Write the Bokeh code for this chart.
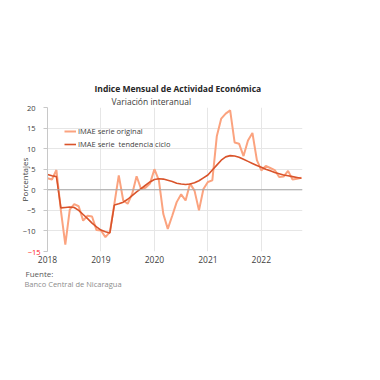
from bokeh.plotting import figure
from bokeh.models import Legend, LegendItem, Span, FixedTicker, Range1d, Title, LinearAxis
from bokeh.embed import file_html
from bokeh.resources import INLINE

# Monthly data Jan 2018 .. Oct 2022
years = [2018, 2019, 2020, 2021, 2022]
original = [
    2.8, 2.5, 4.8, -5.0, -13.3, -4.8, -3.5, -4.0, -7.5, -6.3, -6.5, -9.8,   # 2018
    -9.9, -11.5, -10.3, -3.5, 3.5, -2.6, -3.4, -1.0, 3.3, 0.2, 0.5, 1.5,  # 2019
    5.0, 2.3, -5.9, -9.5, -6.3, -3.0, -1.1, -2.6, 1.5, -0.2, -5.0, 0.2,  # 2020
    1.9, 2.3, 13.0, 17.3, 18.5, 19.3, 11.5, 11.2, 8.2, 12.0, 13.8, 7.2,  # 2021
    4.7, 5.8, 5.3, 4.8, 3.1, 3.2, 4.6, 2.5, 2.7, 2.9,                    # 2022
]
trend = [
    3.7, 3.4, 3.2, -4.4, -4.3, -4.2, -4.3, -5.0, -6.0, -7.0, -8.1, -9.0,
    -9.8, -10.2, -10.5, -3.7, -3.4, -3.0, -2.3, -1.4, -0.5, 0.3, 1.1, 1.9,
    2.5, 2.7, 2.6, 2.3, 2.0, 1.6, 1.4, 1.3, 1.4, 1.7, 2.2, 2.9,
    3.6, 4.8, 6.0, 7.2, 8.0, 8.3, 8.2, 7.9, 7.4, 6.9, 6.4, 5.9,
    5.5, 5.0, 4.6, 4.2, 3.9, 3.6, 3.4, 3.2, 3.0, 2.8,
]
y_ticks = [-15, -10, -5, 0, 5, 10, 15, 20]
legend_labels = ["IMAE serie original", "IMAE serie  tendencia ciclo"]
title_text = "Indice Mensual de  Actividad Económica"
subtitle_text = "Variación interanual"
source_head = "Fuente:"
source_text = "Banco Central de Nicaragua"

x = [2018 + i / 12 for i in range(len(original))]

FONT = "Open Sans"
W, H = 362, 310
p = figure(width=W, height=H, output_backend="svg", toolbar_location=None,
           x_range=Range1d(2018, 2022.77), y_range=Range1d(-15, 20),
           min_border_left=47, min_border_right=60, min_border_top=107,
           min_border_bottom=59, y_axis_location=None)
p.outline_line_color = None
p.background_fill_color = "white"
p.border_fill_color = "white"

r1 = p.line(x, original, line_color="#FBA37F", line_width=2)
r2 = p.line(x, trend, line_color="#D9532A", line_width=1.6)

p.add_layout(Span(location=0, dimension="width", line_color="#A6A6A6", line_width=1))

p.xaxis.ticker = FixedTicker(ticks=years)
p.xgrid.ticker = FixedTicker(ticks=years)
p.xgrid.grid_line_color = "#E6E6E6"
p.ygrid.ticker = FixedTicker(ticks=y_ticks)
p.ygrid.grid_line_color = "#E6E6E6"

p.xaxis.axis_line_color = None
p.xaxis.major_tick_line_color = None
p.xaxis.minor_tick_line_color = None
p.xaxis.major_label_text_font = FONT
p.xaxis.major_label_text_font_size = "8.5px"
p.xaxis.major_label_text_color = "#404040"
p.xaxis.major_label_standoff = -2

# inner axis: line, ticks, and the red lowest label
inner = LinearAxis(ticker=FixedTicker(ticks=y_ticks),
                   major_label_overrides={t: " " for t in y_ticks if t != -15},
                   axis_line_color="#C8C8C8", major_tick_line_color="#C8C8C8",
                   major_tick_in=0, major_tick_out=4, minor_tick_line_color=None,
                   major_label_text_font=FONT, major_label_text_font_size="7.5px",
                   major_label_text_color="#FF2020", major_label_standoff=3)
# outer axis: the other labels and the axis title, pulled over the inner one
outer = LinearAxis(ticker=FixedTicker(ticks=y_ticks),
                   major_label_overrides={-15: " "},
                   axis_line_color=None, major_tick_line_color=None,
                   major_tick_in=0, major_tick_out=0, minor_tick_line_color=None,
                   major_label_text_font=FONT, major_label_text_font_size="7.5px",
                   major_label_text_color="#404040", major_label_standoff=-11,
                   axis_label="Porcentajes", axis_label_text_font=FONT,
                   axis_label_text_font_size="8px", axis_label_text_font_style="normal",
                   axis_label_text_color="#404040", axis_label_standoff=-10)
p.add_layout(inner, "left")
p.add_layout(outer, "left")

legend = Legend(items=[LegendItem(label=legend_labels[0], renderers=[r1]),
                       LegendItem(label=legend_labels[1], renderers=[r2])],
                location=(17, 102), border_line_color=None,
                background_fill_alpha=0, label_text_font=FONT,
                label_text_font_size="7.5px", label_text_color="#404040",
                glyph_width=12, glyph_height=10, label_height=10,
                spacing=3, padding=0, margin=0, label_standoff=2)
p.add_layout(legend)

p.add_layout(Title(text=subtitle_text, align="left", offset=64, text_font=FONT,
                   text_font_size="8.5px", text_font_style="normal",
                   text_color="#404040", standoff=2), "above")
p.add_layout(Title(text=title_text, align="left", offset=47, text_font=FONT,
                   text_font_size="8.5px", text_font_style="bold",
                   text_color="#262626", standoff=-3), "above")
p.add_layout(Title(text=source_head, align="left", offset=-22, text_font=FONT,
                   text_font_size="8px", text_font_style="normal",
                   text_color="#595959", standoff=0), "below")
p.add_layout(Title(text=source_text, align="left", offset=-23, text_font=FONT,
                   text_font_size="7.5px", text_font_style="normal",
                   text_color="#8C8C8C", standoff=-3), "below")

out = file_html(p, INLINE)
open("out.html", "w").write(out)
